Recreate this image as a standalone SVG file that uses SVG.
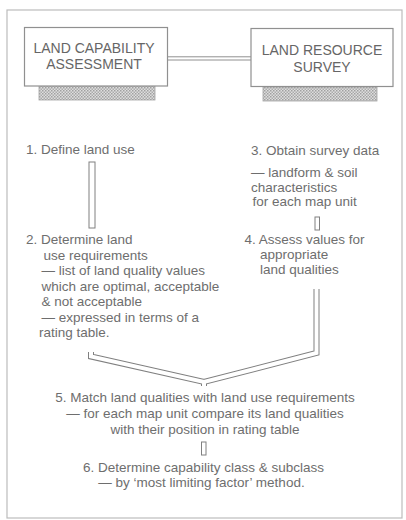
<svg xmlns="http://www.w3.org/2000/svg" width="406" height="520" viewBox="0 0 406 520">
<defs>
<pattern id="stip" width="3" height="3" patternUnits="userSpaceOnUse">
<rect width="3" height="3" fill="#dedede"/>
<rect x="0" y="0" width="1.5" height="1.5" fill="#a0a0a0"/>
<rect x="1.5" y="1.5" width="1.5" height="1.5" fill="#ababab"/>
</pattern>
</defs>
<style>
.t{font-family:"Liberation Sans",Arial,sans-serif;font-size:13.5px;fill:#6e6e6e}
.h{font-family:"Liberation Sans",Arial,sans-serif;font-size:14px;fill:#666;text-anchor:middle}
.box{fill:#fff;stroke:#909090;stroke-width:1.2}
.sh{fill:url(#stip);stroke:#a4a4a4;stroke-width:0.8}
.outer{fill:none;stroke:#bcbcbc;stroke-width:1.2}
.bar{fill:#fff;stroke:#808080;stroke-width:1}
.m{text-anchor:middle}
</style>
<rect width="406" height="520" fill="#fff"/>
<rect class="outer" x="7" y="10" width="395" height="508"/>
<g id="connectors">
<line x1="167" y1="56.8" x2="251" y2="56.8" stroke="#909090" stroke-width="1"/>
<line x1="167" y1="60" x2="251" y2="60" stroke="#909090" stroke-width="1"/>
<rect class="bar" x="89" y="162" width="6" height="66"/>
<rect class="bar" x="315" y="217" width="4.5" height="13"/>
<rect class="bar" x="201.5" y="442" width="4.5" height="13"/>
<path d="M91 352 L91 356.5 L204 382 L316.5 353 L316.5 289" fill="none" stroke="#808080" stroke-width="6" stroke-linejoin="miter"/>
<path d="M204 380 L204 386" fill="none" stroke="#808080" stroke-width="6"/>
<path d="M91 352 L91 356.5 L204 382 L316.5 353 L316.5 289" fill="none" stroke="#fff" stroke-width="4" stroke-linejoin="miter"/>
<path d="M204 380 L204 386.5" fill="none" stroke="#fff" stroke-width="4"/>
</g>
<g id="node-assessment">
<rect class="sh" x="39" y="86" width="116" height="14"/>
<rect class="box" x="24.5" y="27.5" width="143" height="58.5"/>
<text class="h" x="94" y="53">LAND CAPABILITY</text>
<text class="h" x="94" y="69">ASSESSMENT</text>
</g>
<g id="node-survey">
<rect class="sh" x="263" y="87" width="114" height="14"/>
<rect class="box" x="251" y="28.5" width="142" height="58"/>
<text class="h" x="322" y="55">LAND RESOURCE</text>
<text class="h" x="322" y="71.5">SURVEY</text>
</g>
<g id="step1"><text class="t" x="26" y="153.5">1. Define land use</text></g>
<g id="step2">
<text class="t" x="26" y="244">2. Determine land</text>
<text class="t" x="43.5" y="259.5">use requirements</text>
<text class="t" x="41.5" y="275">— list of land quality values</text>
<text class="t" x="41.5" y="291">which are optimal, acceptable</text>
<text class="t" x="41.5" y="306">&amp; not acceptable</text>
<text class="t" x="41.5" y="321.5">— expressed  in terms of a</text>
<text class="t" x="39" y="336.5">rating table.</text>
</g>
<g id="step3">
<text class="t" x="251" y="155">3. Obtain survey data</text>
<text class="t" x="251" y="177">— landform &amp; soil</text>
<text class="t" x="251" y="191.5">characteristics</text>
<text class="t" x="252.5" y="206">for each map unit</text>
</g>
<g id="step4">
<text class="t" x="244.5" y="244">4. Assess values for</text>
<text class="t" x="260" y="258.5">appropriate</text>
<text class="t" x="260" y="273.5">land qualities</text>
</g>
<g id="step5">
<text class="t m" x="205" y="402">5. Match land qualities with land use requirements</text>
<text class="t m" x="205" y="418">— for each map unit compare its land qualities</text>
<text class="t m" x="205" y="433.5">with their position in rating table</text>
</g>
<g id="step6">
<text class="t m" x="203.5" y="471.5">6. Determine capability class &amp; subclass</text>
<text class="t m" x="201.5" y="486.5">— by ‘most limiting factor’ method.</text>
</g>
</svg>
